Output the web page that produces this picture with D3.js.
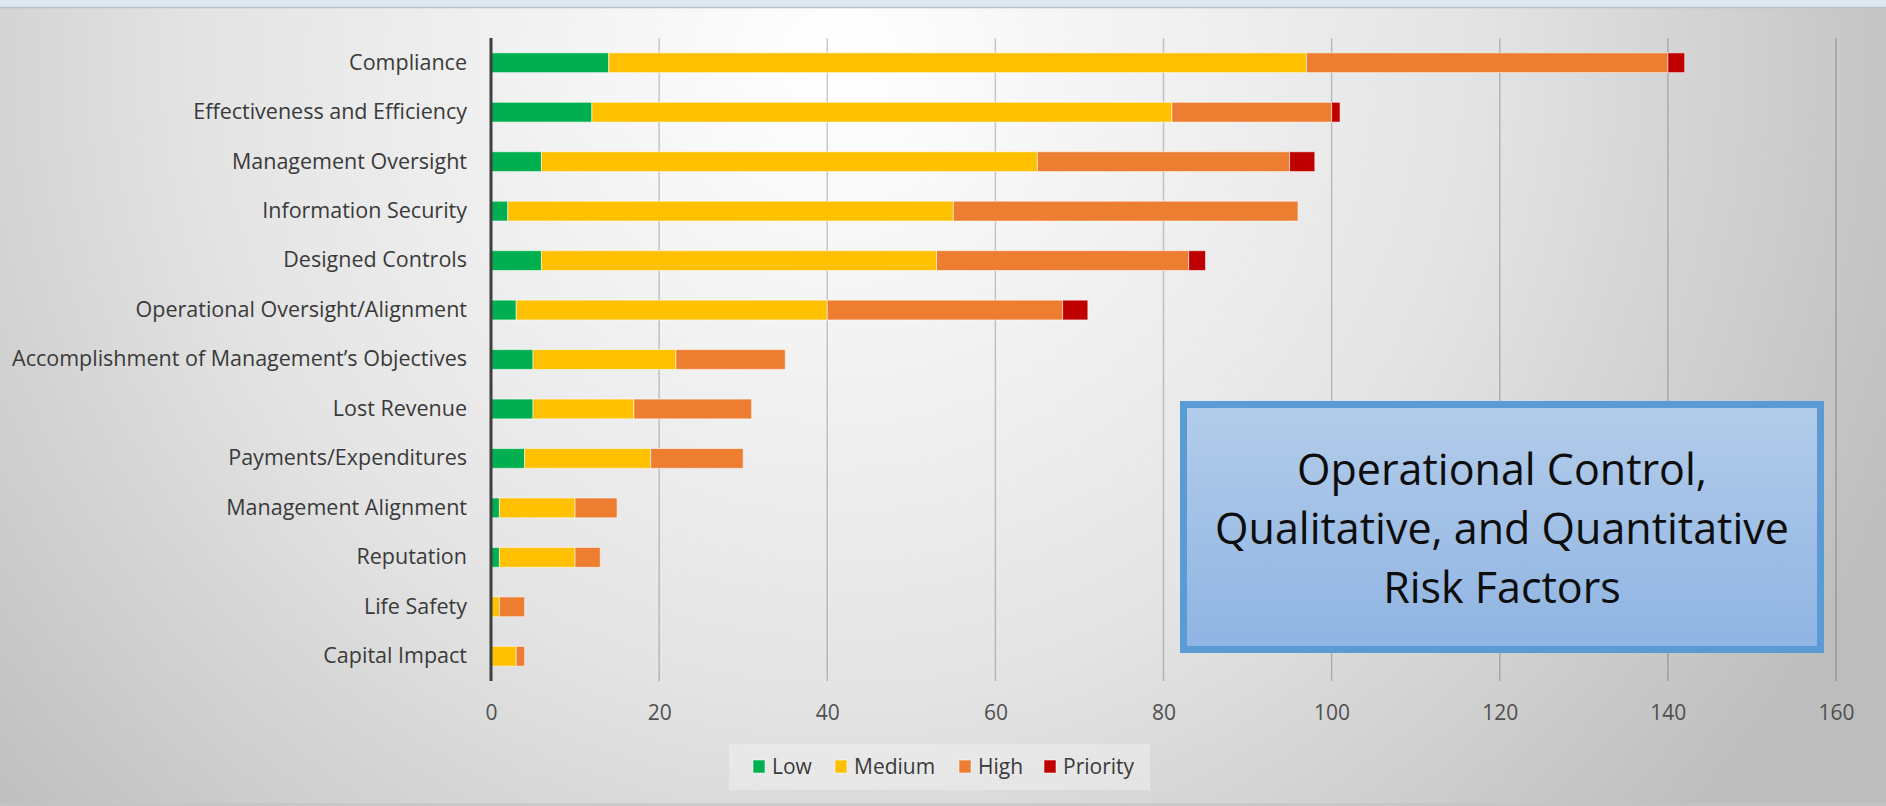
<!DOCTYPE html>
<html>
<head>
<meta charset="utf-8">
<script src="https://cdn.jsdelivr.net/npm/d3@7/dist/d3.min.js"></script>
<style>
    body { margin: 0; overflow: hidden; background: #fff; }
    svg { display: block; font-family: 'Open Sans', sans-serif; }
</style>
</head>
<body>
<svg></svg>
<script>
// chart data
const categories = [
    'Compliance',
    'Effectiveness and Efficiency',
    'Management Oversight',
    'Information Security',
    'Designed Controls',
    'Operational Oversight/Alignment',
    'Accomplishment of Management\u2019s Objectives',
    'Lost Revenue',
    'Payments/Expenditures',
    'Management Alignment',
    'Reputation',
    'Life Safety',
    'Capital Impact'
];
const low      = [14, 12, 6, 2, 6, 3, 5, 5, 4, 1, 1, 0, 0];
const medium   = [83, 69, 59, 53, 47, 37, 17, 12, 15, 9, 9, 1, 3];
const high     = [43, 19, 30, 41, 30, 28, 13, 14, 11, 5, 3, 3, 1];
const priority = [2, 1, 3, 0, 2, 3, 0, 0, 0, 0, 0, 0, 0];

const seriesNames = ['Low', 'Medium', 'High', 'Priority'];
const seriesColors = ['#00b050', '#ffc000', '#ed7d31', '#c00000'];
const xTicks = [0, 20, 40, 60, 80, 100, 120, 140, 160];
const titleLines = ['Operational Control,', 'Qualitative, and Quantitative', 'Risk Factors'];

const size = {w: 1886, h: 806};
const plot = {l: 491, r: 1836, t: 38, b: 681};
const svg = d3.select('svg');

svg.attr('width', size.w)
    .attr('height', size.h);

// background: slide style radial shading
let defs = svg.append('defs');
let bg = defs.append('radialGradient')
    .attr('id', 'bg')
    .attr('gradientUnits', 'userSpaceOnUse')
    .attr('cx', 840).attr('cy', 60).attr('r', 1150);
bg.append('stop').attr('offset', '0%').attr('stop-color', '#ffffff');
bg.append('stop').attr('offset', '55%').attr('stop-color', '#e4e4e4');
bg.append('stop').attr('offset', '100%').attr('stop-color', '#bdbdbd');

let boxGrad = defs.append('linearGradient')
    .attr('id', 'boxGrad')
    .attr('x1', 0).attr('y1', 0).attr('x2', 0).attr('y2', 1);
boxGrad.append('stop').attr('offset', '0%').attr('stop-color', '#b3ccea');
boxGrad.append('stop').attr('offset', '100%').attr('stop-color', '#8fb4e2');

svg.append('rect')
    .attr('width', size.w).attr('height', size.h)
    .attr('fill', 'url(#bg)');
svg.append('rect')
    .attr('width', size.w).attr('height', 7)
    .attr('fill', '#dce7f0');
svg.append('line')
    .attr('x1', 0).attr('x2', size.w).attr('y1', 7.5).attr('y2', 7.5)
    .attr('stroke', '#b8bfc6').attr('stroke-width', 1.5);
svg.append('line')
    .attr('x1', 0).attr('x2', size.w).attr('y1', 804.5).attr('y2', 804.5)
    .attr('stroke', '#c4c4c4').attr('stroke-width', 2);

let rows = categories.map((c, i) => ({
    category: c,
    Low: low[i],
    Medium: medium[i],
    High: high[i],
    Priority: priority[i]
}));

let x = d3.scaleLinear()
    .domain([0, 160])
    .range([plot.l, plot.r]);

let y = d3.scaleBand()
    .domain(categories)
    .range([plot.t, plot.b])
    .paddingInner(0.6)
    .paddingOuter(0.3);

let color = d3.scaleOrdinal()
    .domain(seriesNames)
    .range(seriesColors);

// gridlines
svg.append('g').classed('grid', true)
    .selectAll('line')
    .data(xTicks.filter(d => d > 0))
    .enter()
    .append('line')
    .attr('x1', d => x(d)).attr('x2', d => x(d))
    .attr('y1', plot.t).attr('y2', plot.b)
    .attr('stroke', '#000')
    .attr('stroke-opacity', 0.2)
    .attr('stroke-width', 1.5);

// stacked bars
let stacked = d3.stack().keys(seriesNames)(rows);

svg.append('g').classed('bars', true)
    .selectAll('g')
    .data(stacked)
    .enter()
    .append('g')
    .attr('fill', d => color(d.key))
    .selectAll('rect')
    .data(d => d.filter(s => s[1] > s[0]))
    .enter()
    .append('rect')
    .attr('x', d => x(d[0]))
    .attr('width', d => x(d[1]) - x(d[0]))
    .attr('y', d => y(d.data.category))
    .attr('height', y.bandwidth())
    .attr('stroke', '#ffffff')
    .attr('stroke-opacity', 0.55)
    .attr('stroke-width', 1);

// category axis
let yAxis = svg.append('g')
    .attr('transform', `translate(${plot.l},0)`)
    .call(d3.axisLeft(y).tickSize(0).tickPadding(24));
yAxis.select('.domain').remove();
yAxis.selectAll('text')
    .attr('font-family', "'Open Sans', sans-serif")
    .attr('font-size', 21.5)
    .attr('fill', '#3a3a3a');

svg.append('line')
    .attr('x1', plot.l).attr('x2', plot.l)
    .attr('y1', plot.t).attr('y2', plot.b)
    .attr('stroke', '#3f3f3f')
    .attr('stroke-width', 3);

// value axis
let xAxis = svg.append('g')
    .attr('transform', `translate(0,${plot.b})`)
    .call(d3.axisBottom(x).tickValues(xTicks).tickSize(0).tickPadding(24));
xAxis.select('.domain').remove();
xAxis.selectAll('text')
    .attr('font-family', "'Open Sans', sans-serif")
    .attr('font-size', 21)
    .attr('fill', '#505050');

// legend
let legendG = svg.append('g').classed('legend', true);
legendG.append('rect')
    .attr('x', 729).attr('y', 744)
    .attr('width', 421).attr('height', 46)
    .attr('fill', '#ffffff').attr('fill-opacity', 0.3);

let legendX = [753, 835, 959, 1044];
let item = legendG.selectAll('g.item')
    .data(seriesNames)
    .enter()
    .append('g')
    .classed('item', true)
    .attr('transform', (d, i) => `translate(${legendX[i]},767)`);
item.append('rect')
    .attr('x', 0).attr('y', -7)
    .attr('width', 12).attr('height', 13)
    .attr('fill', d => color(d))
    .attr('stroke', '#fff').attr('stroke-opacity', 0.55);
item.append('text')
    .attr('x', 19)
    .attr('dy', '0.35em')
    .attr('font-size', 21)
    .attr('fill', '#3a3a3a')
    .text(d => d);

// title box
let box = svg.append('g').classed('title-box', true);
box.append('rect')
    .attr('x', 1183.5).attr('y', 404.5)
    .attr('width', 637).attr('height', 245)
    .attr('fill', 'url(#boxGrad)')
    .attr('stroke', '#5b9bd5')
    .attr('stroke-width', 7);
box.selectAll('text')
    .data(titleLines)
    .enter()
    .append('text')
    .attr('x', 1502)
    .attr('y', (d, i) => 470 + i * 59)
    .attr('dy', '0.35em')
    .attr('text-anchor', 'middle')
    .attr('font-size', 43)
    .attr('fill', '#0d0d0d')
    .text(d => d);
</script>
</body>
</html>
